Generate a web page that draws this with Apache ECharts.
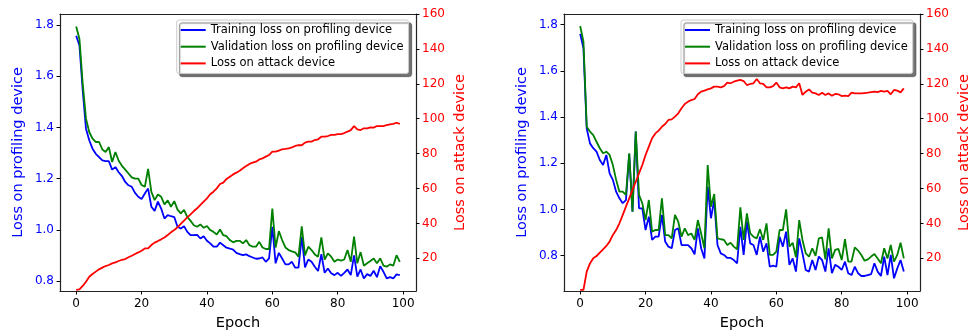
<!DOCTYPE html>
<html>
<head>
<meta charset="utf-8">
<script src="https://cdn.jsdelivr.net/npm/echarts@6/dist/echarts.min.js"></script>
<style>
  html, body { margin: 0; padding: 0; background: #fff; }
  #myChart { width: 971px; height: 335px; }
</style>
</head>
<body>
<div id="myChart"></div>
<script>
// tick labels
const xTicks = [0, 20, 40, 60, 80, 100]
const lossTicks = [0.8, 1.0, 1.2, 1.4, 1.6, 1.8]
const attackTicks = [20, 40, 60, 80, 100, 120, 140, 160]

const seriesNames = ['Training loss on profiling device', 'Validation loss on profiling device', 'Loss on attack device']

// left plot
const trainA = [1.758,1.72,1.544,1.395,1.35,1.317,1.297,1.284,1.271,1.268,
  1.268,1.235,1.245,1.225,1.21,1.187,1.174,1.168,1.144,1.129,
  1.12,1.142,1.161,1.09,1.074,1.11,1.083,1.044,1.057,1.053,
  1.05,1.012,1.005,1.014,0.992,0.979,0.979,0.98,0.966,0.975,
  0.957,0.947,0.934,0.934,0.95,0.94,0.93,0.927,0.923,0.91,
  0.905,0.901,0.904,0.897,0.892,0.887,0.888,0.892,0.875,0.888,
  1.012,0.869,0.91,0.888,0.865,0.865,0.875,0.852,0.852,0.973,
  0.853,0.884,0.875,0.856,0.839,0.905,0.832,0.849,0.83,0.823,
  0.832,0.82,0.832,0.845,0.823,0.9,0.817,0.845,0.81,0.827,
  0.82,0.84,0.815,0.858,0.836,0.81,0.815,0.81,0.826,0.823]
const valA = [1.794,1.745,1.57,1.434,1.382,1.356,1.343,1.343,1.314,1.304,
  1.323,1.265,1.304,1.27,1.25,1.235,1.22,1.205,1.2,1.2,
  1.175,1.168,1.238,1.148,1.116,1.138,1.129,1.099,1.115,1.09,
  1.112,1.079,1.064,1.078,1.05,1.035,1.018,1.012,1.021,1.008,
  1.015,0.999,0.992,0.982,1.001,0.979,0.975,0.96,0.951,0.957,
  0.957,0.947,0.96,0.94,0.934,0.934,0.953,0.931,0.925,0.925,
  1.083,0.931,0.995,0.96,0.931,0.921,0.916,0.912,0.895,1.014,
  0.9,0.934,0.921,0.904,0.895,0.97,0.884,0.908,0.895,0.875,
  0.884,0.88,0.884,0.921,0.875,0.973,0.869,0.913,0.86,0.869,
  0.878,0.888,0.869,0.888,0.86,0.856,0.865,0.86,0.901,0.875]
const attackA = [1.9,2.2,4.2,6.6,9.5,11,12.4,13.7,14.7,15.6,
  16.2,17.1,17.7,18.5,19.2,19.6,20.6,21.5,22.5,23.4,
  24.4,25.7,25.7,27.6,29,29.9,30.9,32,33.4,34.9,
  36.2,37.8,39.7,41.6,43.5,45.2,47.1,48.7,50.6,52.5,
  54.4,56.7,58.2,60.1,62.6,63.4,65.5,66.8,68.1,69.1,
  70.2,71.6,72.9,74.1,74.8,75.4,76.7,77.3,78.3,79.2,
  81.1,81.1,81.7,82.5,82.7,83,83.6,84.4,84.9,84.8,
  86.3,86.9,86.9,87.8,88.2,89.7,89.7,90.1,90.7,90.7,
  91.2,91.2,91.8,92.6,93.5,95.8,93.9,93.5,94.5,94.5,
  95.1,94.9,95.8,95.8,95.8,96.4,96.8,97,97.7,97]

// right plot
const trainB = [1.76,1.698,1.35,1.286,1.265,1.25,1.214,1.192,1.236,1.156,
  1.128,1.077,1.048,1.027,1.04,1.24,0.99,1.337,1.005,1.005,
  0.911,0.969,0.868,0.882,0.882,0.976,0.861,0.839,0.832,0.911,
  0.918,0.846,0.846,0.846,0.832,0.806,0.918,0.832,0.788,1.099,
  0.962,1.04,0.846,0.81,0.803,0.79,0.79,0.781,0.767,0.925,
  0.803,0.947,0.853,0.846,0.803,0.882,0.817,0.853,0.752,0.757,
  0.752,0.882,0.839,0.904,0.76,0.788,0.731,0.875,0.81,0.738,
  0.731,0.781,0.738,0.796,0.781,0.731,0.832,0.724,0.76,0.752,
  0.738,0.774,0.724,0.716,0.752,0.724,0.712,0.712,0.716,0.72,
  0.767,0.731,0.712,0.796,0.716,0.803,0.702,0.745,0.781,0.731]
const valB = [1.794,1.726,1.358,1.337,1.322,1.293,1.265,1.243,1.25,1.236,
  1.192,1.128,1.077,1.077,1.063,1.243,0.99,1.337,1.063,1.027,
  0.954,1.041,0.904,0.911,0.911,1.048,0.889,0.889,0.875,0.976,
  0.947,0.882,0.918,0.889,0.896,0.868,0.954,0.896,0.832,1.192,
  1.012,1.067,0.875,0.871,0.868,0.846,0.856,0.839,0.827,1.009,
  0.868,0.983,0.896,0.882,0.875,0.914,0.868,0.94,0.803,0.803,
  0.817,0.911,0.911,1.0,0.839,0.856,0.793,0.954,0.868,0.81,
  0.796,0.832,0.799,0.875,0.879,0.784,0.918,0.788,0.825,0.829,
  0.781,0.871,0.774,0.774,0.836,0.822,0.803,0.778,0.784,0.796,
  0.807,0.788,0.767,0.832,0.788,0.846,0.774,0.803,0.856,0.788]
const attackB = [1.9,1.9,12.4,17.1,20,21.3,23.3,25.2,27.1,29.6,
  33.4,36.2,40.1,44.8,49.6,54.4,59.2,63.9,68.7,73.5,
  79.2,84,88.8,91.6,93.2,95.4,97,99.3,99.6,101.2,
  103.1,106,108.4,109.8,110.7,111.3,114,115.5,116.1,116.8,
  117.4,118.4,118.4,118,118.7,120.7,120.3,121.2,121.8,122.2,
  121.6,119.3,119.9,120.3,122.8,120.3,119.9,118,118,118.7,
  120.7,118,117.4,118,117.4,118.4,118,120.3,113.6,115.5,
  116.8,114.9,114.5,113.6,114.9,113.6,114.5,113.2,114.2,114,
  113,113.2,113,114.9,114.5,114.5,114.5,114.7,114.9,115.3,
  115.5,115.3,115.9,115.5,115.9,114,116.5,116.1,115.1,117.4]

const font = 'DejaVu Sans'
const colors = ['#0000ff', '#008000', '#ff0000']
const spine = { show: true, onZero: false, lineStyle: { color: '#222', width: 1.2 } }

function pairs(vals) {
  return vals.map((v, i) => [i, v])
}

function xAxisFor(idx) {
  return {
    gridIndex: idx, type: 'value', position: 'bottom', min: -4.95, max: 103.95,
    name: 'Epoch', nameLocation: 'middle', nameGap: 25,
    nameTextStyle: { fontFamily: font, fontSize: 14.5, color: '#000' },
    axisLine: spine,
    axisTick: { show: true, length: 3.5, lineStyle: { color: '#000' }, customValues: xTicks },
    axisLabel: { fontFamily: font, fontSize: 12, color: '#000', margin: 7, customValues: xTicks },
    splitLine: { show: false }
  }
}

// top spine only
function topAxisFor(idx) {
  return {
    gridIndex: idx, type: 'value', position: 'top', min: -4.95, max: 103.95,
    axisLine: spine, axisTick: { show: false }, axisLabel: { show: false }, splitLine: { show: false }
  }
}

function yAxisFor(idx, side, min, max, ticks, name, color, gap) {
  return {
    gridIndex: idx, type: 'value', position: side, min: min, max: max,
    name: name, nameLocation: 'middle', nameGap: gap,
    nameTextStyle: { fontFamily: font, fontSize: 14.5, color: color },
    axisLine: spine,
    axisTick: { show: true, length: 3.5, lineStyle: { color: '#000' }, customValues: ticks },
    axisLabel: {
      fontFamily: font, fontSize: 12, color: color, margin: 6, customValues: ticks,
      formatter: v => (side === 'left' ? v.toFixed(1) : String(v))
    },
    splitLine: { show: false }
  }
}

function legendFor(left) {
  return {
    left: left, top: 20, orient: 'vertical',
    data: seriesNames,
    icon: 'rect',
    itemWidth: 25, itemHeight: 2, itemGap: 2.7, itemTextGap: 9,
    padding: [3, 5, 3, 4],
    backgroundColor: '#fff', borderColor: '#cccccc', borderWidth: 1, borderRadius: 2,
    shadowColor: 'rgba(0,0,0,0.55)', shadowBlur: 1, shadowOffsetX: 3, shadowOffsetY: 3,
    textStyle: { fontFamily: font, fontSize: 11.5, color: '#000', lineHeight: 14 },
    selectedMode: false
  }
}

function lineSeries(name, data, xi, yi, color) {
  return {
    name: name, type: 'line', xAxisIndex: xi, yAxisIndex: yi,
    data: pairs(data), symbol: 'none', showSymbol: false,
    lineStyle: { width: 1.8, color: color }, itemStyle: { color: color },
    z: 3
  }
}

let myChart = echarts.init(document.getElementById('myChart'), null, { renderer: 'canvas' })

myChart.setOption({
  animation: false,
  backgroundColor: '#fff',
  grid: [
    { left: 60, top: 14, width: 356, height: 277, outerBoundsMode: 'none', containLabel: false },
    { left: 564, top: 14, width: 356, height: 277, outerBoundsMode: 'none', containLabel: false }
  ],
  xAxis: [xAxisFor(0), xAxisFor(1), topAxisFor(0), topAxisFor(1)],
  yAxis: [
    yAxisFor(0, 'left', 0.761, 1.843, lossTicks, 'Loss on profiling device', colors[0], 34),
    yAxisFor(0, 'right', 1.3, 160, attackTicks, 'Loss on attack device', colors[2], 37),
    yAxisFor(1, 'left', 0.647, 1.846, lossTicks, 'Loss on profiling device', colors[0], 34),
    yAxisFor(1, 'right', 1.3, 160, attackTicks, 'Loss on attack device', colors[2], 37)
  ],
  legend: [legendFor(176.7), legendFor(681)],
  series: [
    lineSeries(seriesNames[0], trainA, 0, 0, colors[0]),
    lineSeries(seriesNames[1], valA, 0, 0, colors[1]),
    lineSeries(seriesNames[2], attackA, 0, 1, colors[2]),
    lineSeries(seriesNames[0], trainB, 1, 2, colors[0]),
    lineSeries(seriesNames[1], valB, 1, 2, colors[1]),
    lineSeries(seriesNames[2], attackB, 1, 3, colors[2])
  ]
})
</script>
</body>
</html>
